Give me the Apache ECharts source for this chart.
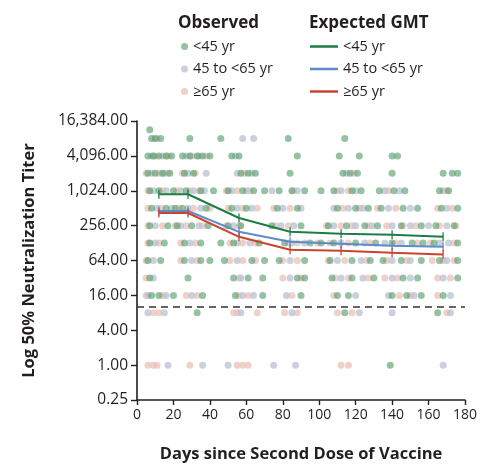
<!DOCTYPE html>
<html><head><meta charset="utf-8">
<script src="https://cdn.jsdelivr.net/npm/echarts@6/dist/echarts.min.js"></script>
<style>html,body{margin:0;padding:0;background:#fff}#c{width:487px;height:468px}</style>
</head><body><div id="c"></div>
<script>
// Expected GMT (days since second dose, titer)
const gmtDays = [12, 28, 56, 84, 112, 140, 168];
const gmtYoung = [891, 891, 347, 200, 185, 178, 164];
const gmtMiddle = [457, 457, 200, 135, 125, 115, 111];
const gmtOld = [423, 423, 164, 98, 94, 87, 81];
const yTicks = [0.25, 1, 4, 16, 64, 256, 1024, 4096, 16384];
const detectionLimit = 10;

// Observed individual titers [day, titer]
const obsYoung = [
 [7,11585],[8,8192],[10,8192],[13,8192],[29,8192],[46,8192],[83,8192],[114,8192],
 [6,4096],[9,4096],[12,4096],[16,4096],[19,4096],[25,4096],[29,4096],[33,4096],[36,4096],[40,4096],[52,4096],[56,4096],[88,4096],[111,4096],[122,4096],[140,4096],[143,4096],
 [6,2048],[10,2048],[14,2048],[18,2048],[26,2048],[31,2048],[57,2048],[61,2048],[65,2048],[84,2048],[113,2048],[117,2048],[121,2048],[140,2048],[168,2048],[173,2048],[176,2048],
 [7,1024],[12,1024],[20,1024],[27,1024],[35,1024],[42,1024],[50,1024],[58,1024],[64,1024],[70,1024],[78,1024],[85,1024],[92,1024],[101,1024],[108,1024],[118,1024],[123,1024],[133,1024],[141,1024],[147,1024],[166,1024],[171,1024],
 [8,512],[16,512],[21,512],[25,512],[38,512],[52,512],[60,512],[77,512],[88,512],[110,512],[120,512],[127,512],[134,512],[146,512],[154,512],[167,512],[176,512],
 [7,256],[17,256],[22,256],[30,256],[39,256],[50,256],[57,256],[74,256],[90,256],[105,256],[115,256],[125,256],[132,256],[145,256],[156,256],[164,256],[174,256],
 [7,128],[15,128],[26,128],[35,128],[46,128],[53,128],[67,128],[81,128],[95,128],[101,128],[108,128],[120,128],[131,128],[140,128],[151,128],[157,128],[163,128],[176,128],
 [6,64],[13,64],[26,64],[35,64],[40,64],[48,64],[63,64],[70,64],[78,64],[92,64],[106,64],[118,64],[128,64],[135,64],[145,64],[156,64],[166,64],[176,64],
 [7,32],[28,32],[53,32],[61,32],[69,32],[88,32],[92,32],[107,32],[118,32],[130,32],[146,32],[154,32],[176,32],
 [8,16],[12,16],[20,16],[36,16],[54,16],[69,16],[90,16],[110,16],[116,16],[140,16],[148,16],[156,16],[168,16],
 [33,8],[114,8],[165,8],
 [139,1]
];
const obsMiddle = [
 [58,8192],[64,8192],
 [8,4096],[14,4096],[27,4096],[34,4096],[54,4096],
 [8,2048],[15,2048],[28,2048],[38,2048],[55,2048],[63,2048],[115,2048],
 [9,1024],[16,1024],[24,1024],[31,1024],[37,1024],[52,1024],[60,1024],[74,1024],[88,1024],[112,1024],[120,1024],[136,1024],[144,1024],[168,1024],
 [11,512],[19,512],[28,512],[35,512],[55,512],[63,512],[80,512],[90,512],[108,512],[116,512],[124,512],[138,512],[150,512],[170,512],
 [10,256],[24,256],[34,256],[53,256],[79,256],[86,256],[108,256],[120,256],[129,256],[140,256],[150,256],[160,256],[170,256],
 [10,128],[29,128],[55,128],[62,128],[85,128],[92,128],[112,128],[125,128],[136,128],[145,128],[166,128],[171,128],
 [9,64],[30,64],[55,64],[84,64],[110,64],[123,64],[140,64],[150,64],[170,64],
 [9,32],[57,32],[84,32],[112,32],[124,32],[140,32],[150,32],[168,32],
 [6,16],[16,16],[30,16],[58,16],[64,16],[82,16],[120,16],[138,16],[152,16],[172,16],
 [6,8],[15,8],[57,8],[85,8],[122,8],[140,8],[172,8],
 [17,1],[36,1],[50,1],[75,1],[87,1],[168,1]
];
const obsOld = [
 [11,8192],
 [10,4096],[17,4096],[30,4096],[38,4096],
 [5,2048],[12,2048],[17,2048],[25,2048],[32,2048],[59,2048],[119,2048],
 [6,1024],[14,1024],[22,1024],[29,1024],[34,1024],[49,1024],[55,1024],[62,1024],[86,1024],[110,1024],[116,1024],[138,1024],[170,1024],
 [6,512],[13,512],[23,512],[31,512],[40,512],[50,512],[58,512],[66,512],[75,512],[84,512],[113,512],[122,512],[132,512],[142,512],[165,512],[173,512],
 [6,256],[14,256],[21,256],[27,256],[36,256],[49,256],[56,256],[76,256],[83,256],[104,256],[112,256],[118,256],[127,256],[137,256],[146,256],[153,256],[166,256],[175,256],
 [6,128],[12,128],[24,128],[32,128],[51,128],[58,128],[65,128],[83,128],[88,128],[99,128],[106,128],[116,128],[128,128],[142,128],[154,128],[161,128],[174,128],
 [5,64],[24,64],[33,64],[51,64],[58,64],[65,64],[80,64],[88,64],[105,64],[114,64],[126,64],[137,64],[148,64],[162,64],[168,64],[174,64],
 [5,32],[56,32],[80,32],[90,32],[109,32],[116,32],[127,32],[136,32],[143,32],[165,32],[172,32],
 [5,16],[14,16],[27,16],[33,16],[56,16],[61,16],[85,16],[108,16],[144,16],[150,16],[165,16],
 [9,8],[12,8],[53,8],[55,8],[66,8],[81,8],[88,8],[110,8],[118,8],[170,8],
 [6,1],[9,1],[11,1],[29,1],[55,1],[58,1],[61,1],[112,1],[116,1]
];

const FONT = 'Open Sans';
const cYoungDot = '#4f9a66', cMidDot = '#b8c2d2', cOldDot = '#ebc2b8';
const cYoung = '#1e7d45', cMid = '#5b8cc9', cOld = '#c9442e';

const pairs = (ys) => gmtDays.map((d, i) => [d, ys[i]]);
const fmt = (v) => {
  const r = Math.round(v * 100) / 100;
  return r.toLocaleString('en-US', {minimumFractionDigits: 2, maximumFractionDigits: 2});
};

function lineSeries(name, ys, color) {
  return {
    name: name, type: 'line', data: pairs(ys), symbol: 'none', z: 5,
    lineStyle: {color: color, width: 2}, itemStyle: {color: color}
  };
}
function capSeries(ys, color) {
  return {
    type: 'scatter', data: pairs(ys), symbol: 'rect', symbolSize: [1.6, 9], z: 6,
    itemStyle: {color: color}, silent: true
  };
}
function dotSeries(name, data, color, op) {
  return {
    name: name, type: 'scatter', data: data, symbol: 'circle', symbolSize: 7,
    itemStyle: {color: color, opacity: op}, z: 2
  };
}

const chart = echarts.init(document.getElementById('c'), null, {renderer: 'canvas'});
chart.setOption({
  animation: false,
  textStyle: {fontFamily: FONT},
  title: [
    {text: 'Observed', left: 173, top: 10, textStyle: {fontFamily: FONT, fontSize: 17, fontWeight: 'bold', color: '#231f20'}},
    {text: 'Expected GMT', left: 304, top: 10, textStyle: {fontFamily: FONT, fontSize: 17, fontWeight: 'bold', color: '#231f20'}}
  ],
  legend: [
    {data: ['<45 yr', '45 to <65 yr', '≥65 yr'], orient: 'vertical', left: 176, top: 34,
     itemWidth: 7, itemHeight: 7, itemGap: 7.5, icon: 'circle',
     textStyle: {fontFamily: FONT, fontSize: 14.5, color: '#231f20'}},
    {data: ['GMT <45 yr', 'GMT 45 to <65 yr', 'GMT ≥65 yr'], orient: 'vertical', left: 305, top: 34,
     itemWidth: 28, itemHeight: 2.5, itemGap: 7.5, icon: 'rect', itemStyle: {opacity: 1},
     formatter: (n) => n.replace('GMT ', ''),
     textStyle: {fontFamily: FONT, fontSize: 14.5, color: '#231f20'}}
  ],
  grid: {left: 137, right: 22, top: 121, bottom: 65, containLabel: false},
  xAxis: {
    type: 'value', min: 0, max: 180, interval: 20,
    name: 'Days since Second Dose of Vaccine', nameLocation: 'middle', nameGap: 46,
    nameTextStyle: {fontFamily: FONT, fontSize: 16.5, fontWeight: 'bold', color: '#231f20'},
    axisLine: {lineStyle: {color: '#231f20', width: 1.6}},
    axisTick: {length: 5, lineStyle: {color: '#231f20', width: 1.4}},
    axisLabel: {margin: 8, fontSize: 14, color: '#231f20', fontFamily: FONT},
    splitLine: {show: false}
  },
  yAxis: {
    type: 'log', logBase: 4, min: yTicks[0], max: yTicks[yTicks.length - 1], splitNumber: 8,
    name: 'Log 50% Neutralization Titer', nameLocation: 'middle', nameGap: 99,
    nameTextStyle: {fontFamily: FONT, fontSize: 16.5, fontWeight: 'bold', color: '#231f20'},
    axisLine: {show: true, lineStyle: {color: '#231f20', width: 1.6}},
    axisTick: {show: true, length: 6, lineStyle: {color: '#231f20', width: 1.4}},
    axisLabel: {margin: 9, fontSize: 15.5, color: '#231f20', fontFamily: FONT, formatter: fmt},
    splitLine: {show: false}
  },
  series: [
    dotSeries('≥65 yr', obsOld, cOldDot, 0.75),
    dotSeries('45 to <65 yr', obsMiddle, cMidDot, 0.75),
    dotSeries('<45 yr', obsYoung, cYoungDot, 0.6),
    {
      type: 'line', data: [], silent: true,
      markLine: {silent: true, symbol: 'none', label: {show: false},
        lineStyle: {color: '#333', type: [7, 5], width: 1.5},
        data: [{yAxis: detectionLimit}]}
    },
    lineSeries('GMT <45 yr', gmtYoung, cYoung),
    lineSeries('GMT 45 to <65 yr', gmtMiddle, cMid),
    lineSeries('GMT ≥65 yr', gmtOld, cOld),
    capSeries(gmtYoung, cYoung),
    capSeries(gmtMiddle, cMid),
    capSeries(gmtOld, cOld)
  ]
});
</script></body></html>
